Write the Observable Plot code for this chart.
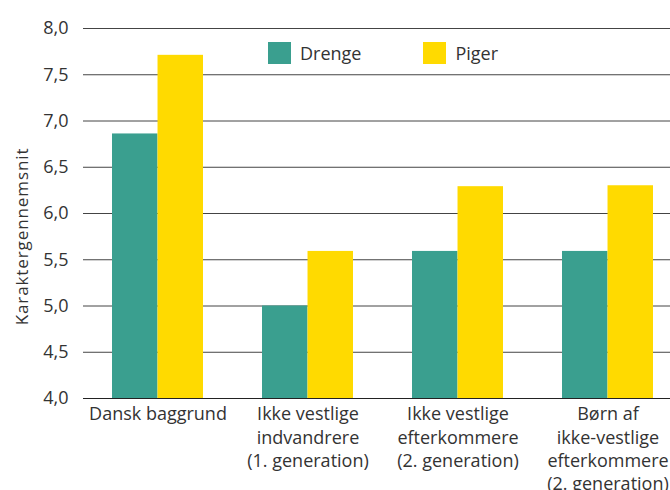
<!DOCTYPE html>
<html><head><meta charset="utf-8">
<script src="https://cdn.jsdelivr.net/npm/d3@7"></script>
<script src="https://cdn.jsdelivr.net/npm/@observablehq/plot@0.6"></script>
<style>
body{margin:0;background:#fff;font-family:"Open Sans",sans-serif;}
#wrap{position:relative;width:670px;height:490px;overflow:hidden;}
.legend{position:absolute;top:41px;left:268px;display:flex;align-items:center;font-size:18px;color:#333;}
.legend .sw{width:23px;height:22px;display:inline-block;margin-right:9px;}
.legend .item{display:flex;align-items:center;}
</style></head><body><div id="wrap"></div>
<script>
const groups = ["Dansk baggrund", "Ikke vestlige indvandrere", "Ikke vestlige efterkommere", "Børn af ikke-vestlige efterkommere"];
const groupLabels = ["Dansk baggrund", "Ikke vestlige\nindvandrere\n(1. generation)", "Ikke vestlige\nefterkommere\n(2. generation)", "Børn af\nikke-vestlige\nefterkommere\n(2. generation)"];
const series = ["Drenge", "Piger"];
const drenge = [6.86, 5.00, 5.59, 5.59];
const piger = [7.71, 5.59, 6.29, 6.30];
const yTicks = [4.0, 4.5, 5.0, 5.5, 6.0, 6.5, 7.0, 7.5, 8.0];
const colors = ["#3a9f8f", "#ffda00"];
const yLabel = "Karaktergennemsnit";

const fmt = d => d.toFixed(1).replace(".", ",");

// band layout
const xRange = [83, 683];
const padIn = 0.393, padOut = padIn / 2;
const step = (xRange[1] - xRange[0]) / (groups.length - padIn + 2 * padOut);
const half = step * (1 - padIn) / 2;

const boys = groups.map((g, i) => ({group: g, value: drenge[i]}));
const girls = groups.map((g, i) => ({group: g, value: piger[i]}));
const labelData = groups.map((g, i) => ({group: g, label: groupLabels[i]}));

const chart = Plot.plot({
  width: 670,
  height: 490,
  marginTop: 28,
  marginBottom: 92,
  marginLeft: 83,
  marginRight: 0,
  style: {fontFamily: "Open Sans, sans-serif", fontSize: "18px", color: "#333", background: "#fff"},
  x: {domain: groups, range: xRange, paddingInner: padIn, paddingOuter: padOut, axis: null},
  y: {domain: [4, 8], axis: null},
  marks: [
    Plot.ruleY(yTicks, {stroke: "#444", strokeWidth: 1}),
    Plot.barY(boys, {x: "group", y1: 4, y2: "value", fill: colors[0], insetRight: half}),
    Plot.barY(girls, {x: "group", y1: 4, y2: "value", fill: colors[1], insetLeft: half}),
    Plot.ruleY([4], {stroke: "#222", strokeWidth: 1}),
    Plot.axisY(yTicks, {tickSize: 0, tickPadding: 15, tickFormat: fmt, fontSize: 18, fill: "#333", label: null}),
    Plot.text(labelData, {x: "group", text: "label", frameAnchor: "bottom", lineAnchor: "top", dy: 5, lineHeight: 1.3, fontSize: 18, fill: "#333"}),
    Plot.text([yLabel], {text: d => d, frameAnchor: "left", textAnchor: "middle", rotate: -90, dx: -61, dy: 23, fontSize: 17, fill: "#333", style: "letter-spacing:0.9px"})
  ]
});
chart.querySelectorAll("text").forEach(t => { if (t.textContent === yLabel) t.setAttribute("letter-spacing", "0.9"); });
const wrap = document.getElementById("wrap");
wrap.appendChild(chart);
const legend = document.createElement("div");
legend.className = "legend";
series.forEach((s, i) => {
  const item = document.createElement("div");
  item.className = "item";
  if (i > 0) item.style.marginLeft = "62px";
  item.innerHTML = `<span class="sw" style="background:${colors[i]}"></span><span>${s}</span>`;
  legend.appendChild(item);
});
wrap.appendChild(legend);
</script></body></html>
